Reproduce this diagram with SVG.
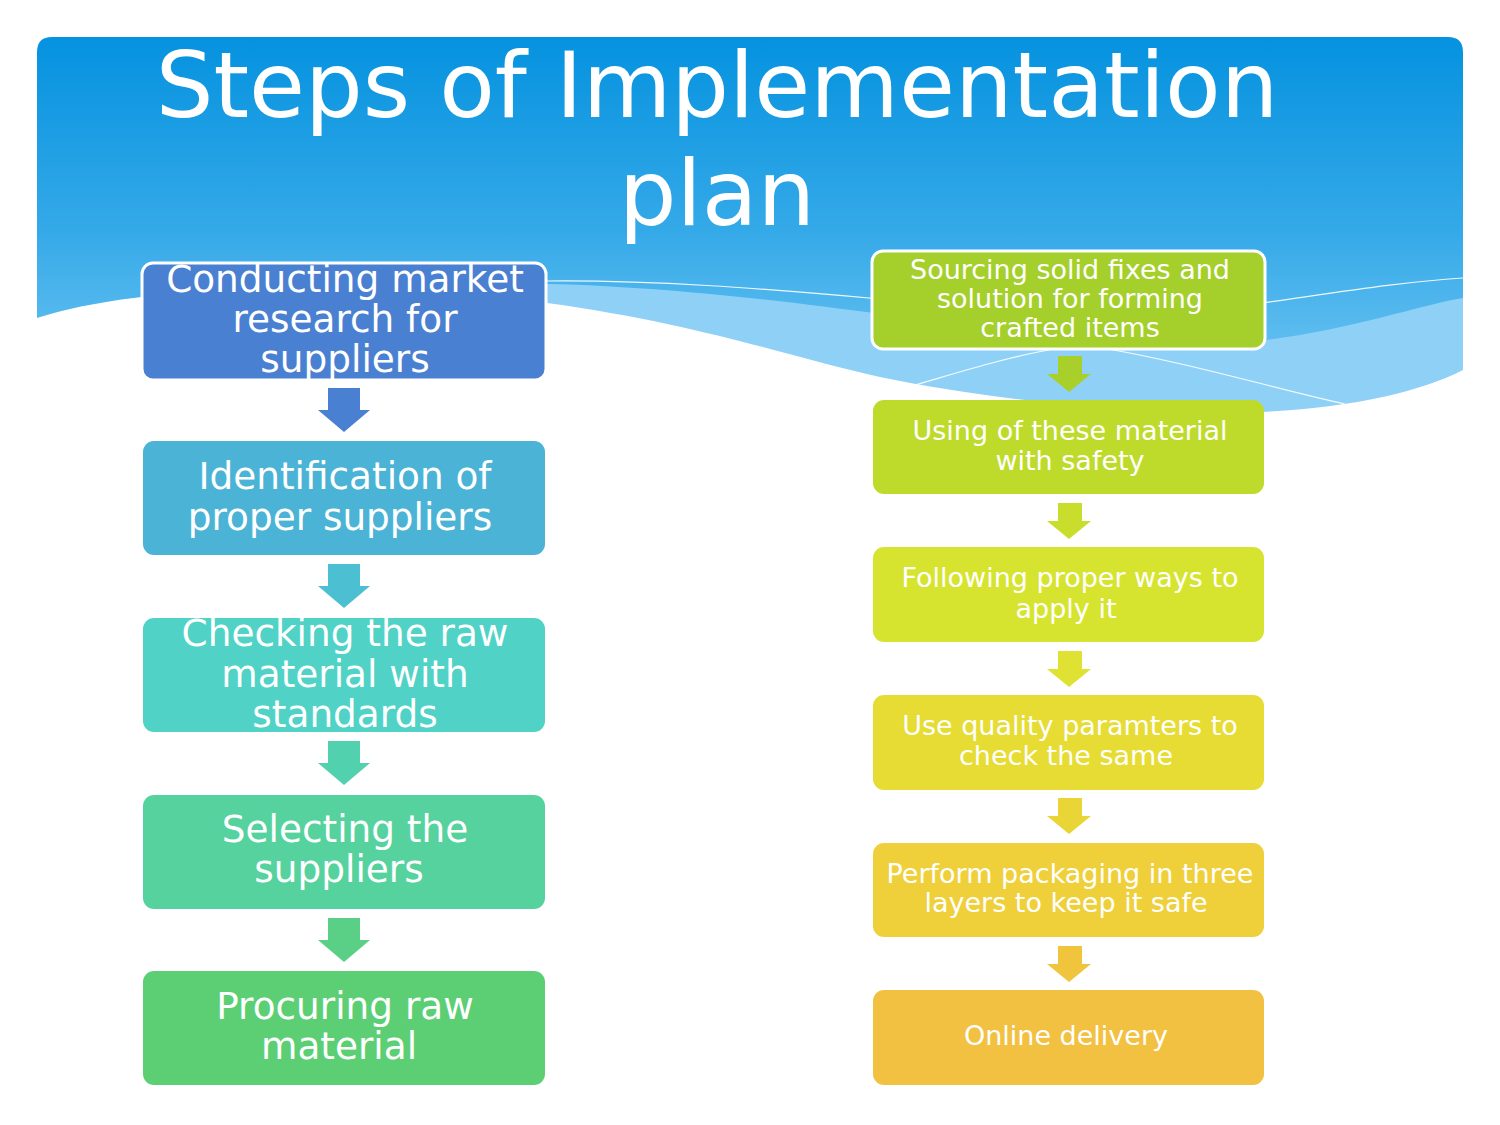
<svg xmlns="http://www.w3.org/2000/svg" width="1500" height="1125" viewBox="0 0 1500 1125">
<defs>
<linearGradient id="sky" x1="0" y1="37" x2="0" y2="420" gradientUnits="userSpaceOnUse">
<stop offset="0" stop-color="#0592df"/>
<stop offset="0.5" stop-color="#34a9e8"/>
<stop offset="1" stop-color="#7acaf4"/>
</linearGradient>
<clipPath id="hdr"><path d="M37,52 Q37,37 52,37 H1448 Q1463,37 1463,52 V440 H37 Z"/></clipPath>
<style>
text{font-family:"DejaVu Sans","Liberation Sans",sans-serif;fill:#ffffff;text-anchor:middle}
.t{font-size:91px}
.l{font-size:37.4px}
.r{font-size:27px}
.thin{fill:none;stroke:#ffffff;stroke-width:1.2;opacity:0.9}
</style>
</defs>
<rect width="1500" height="1125" fill="#ffffff"/>
<g id="header" clip-path="url(#hdr)">
<rect x="37" y="37" width="1426" height="403" fill="url(#sky)"/>
<path d="M420,284 C600,278 760,298 880,314 C1040,334 1180,345 1265,340 C1350,330 1420,305 1463,298 V440 H420 Z" fill="#8fd1f6"/>
<path class="thin" d="M547,281 C650,280 760,288 880,299"/>
<path class="thin" d="M1262,303 C1340,292 1400,282 1463,278"/>
<path class="thin" d="M915,385 C960,372 1010,356 1060,348"/>
<path class="thin" d="M1090,346 C1180,360 1280,390 1345,404"/>
<path d="M37,318 C150,280 400,282 547,303 C700,324 790,357 880,377 C1000,402 1150,415 1260,412 C1350,408 1420,392 1463,370 V440 H37 Z" fill="#ffffff"/>
</g>
<g id="title">
<text class="t" x="717" y="117">Steps of Implementation</text>
<text class="t" x="717" y="225">plan</text>
</g>
<g id="connectors">
<path d="M328,388 H360 V410 H370 L344,432 L318,410 H328 Z" fill="#4a80d2"/>
<path d="M328,564 H360 V586 H370 L344,608 L318,586 H328 Z" fill="#4cbfd2"/>
<path d="M328,741 H360 V763 H370 L344,785 L318,763 H328 Z" fill="#52d1ae"/>
<path d="M328,918 H360 V940 H370 L344,962 L318,940 H328 Z" fill="#59d086"/>
<path d="M1058,356 H1082 V374 H1091 L1069,392 L1047,374 H1058 Z" fill="#a9d02a"/>
<path d="M1058,503 H1082 V521 H1091 L1069,539 L1047,521 H1058 Z" fill="#c8dd2c"/>
<path d="M1058,651 H1082 V669 H1091 L1069,687 L1047,669 H1058 Z" fill="#dfe232"/>
<path d="M1058,798 H1082 V816 H1091 L1069,834 L1047,816 H1058 Z" fill="#e9d535"/>
<path d="M1058,946 H1082 V964 H1091 L1069,982 L1047,964 H1058 Z" fill="#f0c43c"/>
</g>
<g id="n1">
<rect x="142" y="263" width="404" height="117" rx="11" fill="#4a80d2" stroke="#ffffff" stroke-width="3"/>
<text class="l" x="345" y="292">Conducting market</text>
<text class="l" x="345" y="332">research for</text>
<text class="l" x="345" y="372">suppliers</text>
</g>
<g id="n2">
<rect x="143" y="441" width="402" height="114" rx="11" fill="#4bb3d5"/>
<text class="l" x="345" y="489">Identification of</text>
<text class="l" x="340" y="530">proper suppliers</text>
</g>
<g id="n3">
<rect x="143" y="618" width="402" height="114" rx="11" fill="#50d2c6"/>
<text class="l" x="345" y="646">Checking the raw</text>
<text class="l" x="345" y="687">material with</text>
<text class="l" x="345" y="727">standards</text>
</g>
<g id="n4">
<rect x="143" y="795" width="402" height="114" rx="11" fill="#56d29e"/>
<text class="l" x="345" y="842">Selecting the</text>
<text class="l" x="339" y="882">suppliers</text>
</g>
<g id="n5">
<rect x="143" y="971" width="402" height="114" rx="11" fill="#5ccf75"/>
<text class="l" x="345" y="1019">Procuring raw</text>
<text class="l" x="339" y="1059">material</text>
</g>
<g id="r1">
<rect x="872" y="251" width="393" height="98" rx="11" fill="#a5cf2a" stroke="#ffffff" stroke-width="3"/>
<text class="r" x="1070" y="279">Sourcing solid fixes and</text>
<text class="r" x="1070" y="308">solution for forming</text>
<text class="r" x="1070" y="337">crafted items</text>
</g>
<g id="r2">
<rect x="873" y="400" width="391" height="94" rx="11" fill="#bedb2c"/>
<text class="r" x="1070" y="440">Using of these material</text>
<text class="r" x="1070" y="470">with safety</text>
</g>
<g id="r3">
<rect x="873" y="547" width="391" height="95" rx="11" fill="#d7e42f"/>
<text class="r" x="1070" y="587">Following proper ways to</text>
<text class="r" x="1066" y="618">apply it</text>
</g>
<g id="r4">
<rect x="873" y="695" width="391" height="95" rx="11" fill="#e6dc34"/>
<text class="r" x="1070" y="735">Use quality paramters to</text>
<text class="r" x="1066" y="765">check the same</text>
</g>
<g id="r5">
<rect x="873" y="843" width="391" height="94" rx="11" fill="#efd03a"/>
<text class="r" x="1070" y="883">Perform packaging in three</text>
<text class="r" x="1066" y="912">layers to keep it safe</text>
</g>
<g id="r6">
<rect x="873" y="990" width="391" height="95" rx="11" fill="#f2c142"/>
<text class="r" x="1066" y="1045">Online delivery</text>
</g>
</svg>
